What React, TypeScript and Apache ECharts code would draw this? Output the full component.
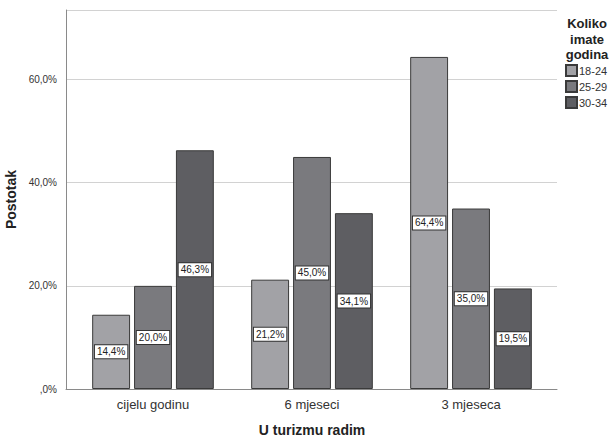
import React, { useEffect, useRef } from "react";
import * as echarts from "echarts";

const categories = ["cijelu godinu", "6 mjeseci", "3 mjeseca"];
const groups = ["18-24", "25-29", "30-34"];
const v1824 = [14.4, 21.2, 64.4];
const v2529 = [20.0, 45.0, 35.0];
const v3034 = [46.3, 34.1, 19.5];
const colors = ["#a2a2a6", "#7a7a7e", "#5e5e62"];

const fmt = (v: number) => (v === 0 ? ",0%" : v.toFixed(1).replace(".", ",") + "%");

export default function App() {
  const ref = useRef<HTMLDivElement>(null);
  useEffect(() => {
    const chart = echarts.init(ref.current!, null, { renderer: "svg" });
    const font = "Liberation Sans, Arial, sans-serif";
    const values = [v1824, v2529, v3034];
    const yMax = 73.5;
    chart.setOption({
      animation: false,
      textStyle: { fontFamily: font },
      grid: [
        { left: 66, right: 53, top: 10, bottom: 49, containLabel: false, outerBoundsMode: "none" },
        { left: 73.5, right: 59.5, top: 10, bottom: 49, containLabel: false, outerBoundsMode: "none" },
      ],
      xAxis: [
        {
          type: "category",
          gridIndex: 0,
          data: categories,
          axisLine: { lineStyle: { color: "#8a8a8a", width: 1 } },
          axisTick: { show: false },
          axisLabel: { show: false },
        },
        {
          type: "category",
          gridIndex: 1,
          data: categories,
          name: "U turizmu radim",
          nameLocation: "middle",
          nameGap: 34,
          nameTextStyle: { fontSize: 14, fontWeight: "bold", color: "#222", fontFamily: font },
          axisLine: { show: false },
          axisTick: { show: false },
          axisLabel: { fontSize: 13, color: "#333", margin: 9, fontFamily: font },
        },
      ],
      yAxis: [
        {
          type: "value",
          gridIndex: 0,
          min: 0,
          max: yMax,
          interval: 20,
          name: "Postotak",
          nameLocation: "middle",
          nameGap: 43,
          nameTextStyle: { fontSize: 14, fontWeight: "bold", color: "#222", fontFamily: font },
          axisLine: { show: true, lineStyle: { color: "#8a8a8a", width: 1 } },
          axisTick: { show: false },
          splitLine: { lineStyle: { color: "#d2d2d2", width: 1 } },
          axisLabel: {
            fontSize: 10,
            color: "#333",
            margin: 9,
            fontFamily: font,
            formatter: (v: number) => (v > 70 ? "" : fmt(v)),
          },
        },
        {
          type: "value",
          gridIndex: 1,
          min: 0,
          max: yMax,
          interval: 20,
          show: false,
          splitLine: { show: false },
        },
      ],
      legend: {
        orient: "vertical",
        left: 565,
        top: 64,
        padding: 0,
        itemWidth: 11,
        itemHeight: 11,
        itemGap: 3,
        icon: "rect",
        textStyle: { fontSize: 11, color: "#333", fontFamily: font, padding: [0, 0, 0, -3] },
        data: groups,
      },
      graphic: [
        {
          type: "text",
          x: 587,
          y: 16,
          style: {
            text: "Koliko\nimate\ngodina",
            font: "bold 13px Liberation Sans, Arial, sans-serif",
            fill: "#222",
            align: "center",
            lineHeight: 15.5,
          },
        },
      ],
      series: groups.map((g, i) => ({
        name: g,
        type: "bar",
        xAxisIndex: 1,
        yAxisIndex: 1,
        data: values[i],
        barGap: "10.5%",
        barCategoryGap: "23.5%",
        itemStyle: { color: colors[i], borderColor: "#3a3a3a", borderWidth: 1 },
        label: {
          show: true,
          position: "inside",
          formatter: (p: any) => fmt(p.value),
          backgroundColor: "#fff",
          borderColor: "#333",
          borderWidth: 1,
          padding: [2, 2, 1, 2],
          color: "#222",
          fontSize: 10,
          fontFamily: font,
        },
      })),
    });
    return () => chart.dispose();
  }, []);
  return (
    <div style={{ position: "absolute", left: 0, top: 0, width: 610, height: 438, overflow: "hidden", background: "#fff" }}>
      <div ref={ref} style={{ width: 610, height: 438, overflow: "hidden" }} />
    </div>
  );
}
